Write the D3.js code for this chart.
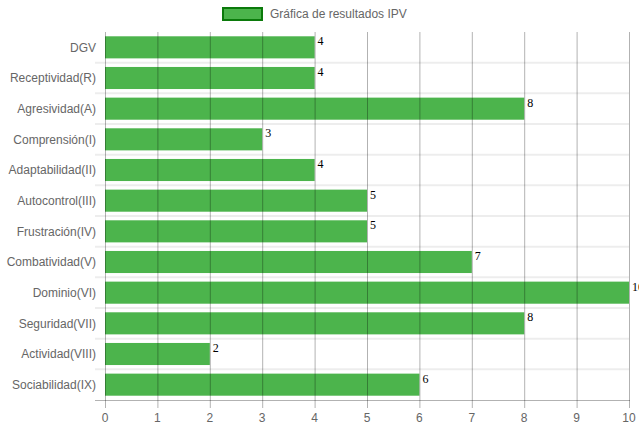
<!DOCTYPE html>
<html>
<head>
<meta charset="utf-8">
<script src="https://cdn.jsdelivr.net/npm/d3@7"></script>
<style>
  html, body { margin: 0; padding: 0; background: #fff; }
  svg { display: block; }
</style>
</head>
<body>
<svg id="chart" width="639" height="431"></svg>
<script>
// IPV results per factor
const categories = [
  "DGV", "Receptividad(R)", "Agresividad(A)", "Comprensión(I)",
  "Adaptabilidad(II)", "Autocontrol(III)", "Frustración(IV)",
  "Combatividad(V)", "Dominio(VI)", "Seguridad(VII)",
  "Actividad(VIII)", "Sociabilidad(IX)"
];
const values = [4, 4, 8, 3, 4, 5, 5, 7, 10, 8, 2, 6];
const xTicks = [0, 1, 2, 3, 4, 5, 6, 7, 8, 9, 10];
const seriesName = "Gráfica de resultados IPV";

const svg = d3.select("#chart");
const font = "'Liberation Sans', Arial, Helvetica, sans-serif";
const plotLeft = 105, plotRight = 629, plotTop = 32, plotBottom = 400;

const x = d3.scaleLinear().domain([0, 10]).range([plotLeft, plotRight]);
const y = d3.scaleBand().domain(categories).range([plotTop, plotBottom]);
const barH = y.bandwidth() * 0.72;

// horizontal grid at band boundaries
const boundaries = categories.slice(1).map(c => y(c));
svg.append("g").selectAll("line").data(boundaries).join("line")
  .attr("x1", plotLeft - 10).attr("x2", plotRight)
  .attr("y1", d => d).attr("y2", d => d)
  .attr("stroke", "rgba(0,0,0,0.07)").attr("stroke-width", 2);

// bars
svg.append("g").selectAll("rect").data(categories).join("rect")
  .attr("x", x(0))
  .attr("y", (c) => y(c) + (y.bandwidth() - barH) / 2)
  .attr("width", (c, i) => x(values[i]) - x(0))
  .attr("height", barH)
  .attr("fill", "rgb(76,180,76)");

// vertical grid lines (drawn over the bars, translucent)
svg.append("g").selectAll("line").data(xTicks).join("line")
  .attr("x1", d => x(d) + 0.5).attr("x2", d => x(d) + 0.5)
  .attr("y1", plotTop).attr("y2", plotBottom + 8)
  .attr("stroke", "rgba(0,0,0,0.3)").attr("stroke-width", 1);

// bottom axis line
svg.append("line")
  .attr("x1", plotLeft - 10).attr("x2", plotRight + 1)
  .attr("y1", plotBottom + 0.5).attr("y2", plotBottom + 0.5)
  .attr("stroke", "rgba(0,0,0,0.3)");

// x tick labels
svg.append("g").selectAll("text").data(xTicks).join("text")
  .attr("x", d => x(d)).attr("y", plotBottom + 22)
  .attr("text-anchor", "middle")
  .attr("font-family", font).attr("font-size", 12).attr("fill", "#666")
  .text(d => d);

// y category labels
svg.append("g").selectAll("text").data(categories).join("text")
  .attr("x", plotLeft - 9).attr("y", c => y(c) + y.bandwidth() / 2)
  .attr("dy", "0.35em")
  .attr("text-anchor", "end")
  .attr("font-family", font).attr("font-size", 12).attr("fill", "#666")
  .text(c => c);

// value labels at bar ends
svg.append("g").selectAll("text").data(categories).join("text")
  .attr("x", (c, i) => x(values[i]) + 3)
  .attr("y", c => y(c) + (y.bandwidth() - barH) / 2 + 9)
  .attr("font-family", "'Liberation Serif', 'Times New Roman', serif")
  .attr("font-size", 12).attr("fill", "#000")
  .text((c, i) => values[i]);

// legend
const lg = svg.append("g");
lg.append("rect")
  .attr("x", 223).attr("y", 8).attr("width", 39).attr("height", 12)
  .attr("fill", "rgb(76,180,76)").attr("stroke", "#0b7a0b").attr("stroke-width", 2);
lg.append("text")
  .attr("x", 270).attr("y", 14).attr("dy", "0.35em")
  .attr("font-family", font).attr("font-size", 12).attr("fill", "#666")
  .text(seriesName);
</script>
</body>
</html>
